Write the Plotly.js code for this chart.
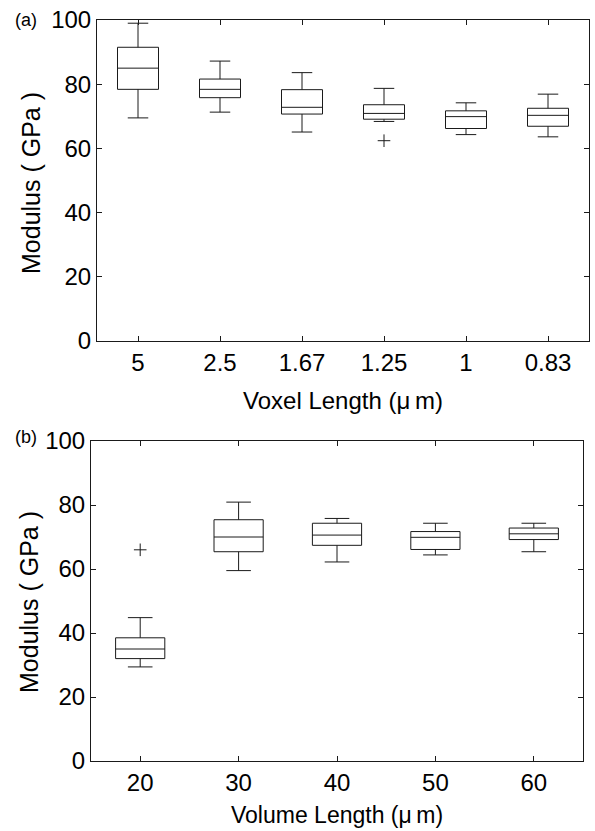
<!DOCTYPE html>
<html>
<head>
<meta charset="utf-8">
<script src="https://cdn.plot.ly/plotly-3.0.1.min.js"></script>
<style>html,body{margin:0;padding:0;background:#fff;}#chart{width:595px;height:831px;}</style>
</head>
<body>
<div id="chart"></div>
<script>
// Panel (a): modulus vs voxel length
const voxelCats = ["5", "2.5", "1.67", "1.25", "1", "0.83"];
const voxelLower = [69.5, 71.3, 65.1, 68.4, 64.3, 63.6];
const voxelQ1 = [78.4, 75.8, 70.7, 69.1, 66.2, 66.9];
const voxelMedian = [85.0, 78.4, 72.8, 70.9, 69.9, 70.3];
const voxelQ3 = [91.5, 81.6, 78.3, 73.6, 71.7, 72.5];
const voxelUpper = [99.0, 87.2, 83.6, 78.7, 74.2, 76.9];
const voxelOutX = ["1.25"];
const voxelOutY = [62.4];

// Panel (b): modulus vs volume length
const volumeCats = ["20", "30", "40", "50", "60"];
const volumeLower = [29.4, 59.5, 62.2, 64.4, 65.4];
const volumeQ1 = [32.0, 65.4, 67.4, 66.1, 69.2];
const volumeMedian = [35.0, 70.0, 70.6, 69.9, 71.0];
const volumeQ3 = [38.5, 75.4, 74.3, 71.7, 72.8];
const volumeUpper = [44.8, 80.9, 75.8, 74.3, 74.3];
const volumeOutX = ["20"];
const volumeOutY = [66.0];

const yTicks = [0, 20, 40, 60, 80, 100];

const FONT = "Liberation Sans, Arial, Helvetica, sans-serif";
const INK = "#1a1a1a";

function boxTrace(cats, lo, q1, med, q3, up, xa, ya) {
  return {
    type: "box", x: cats, q1: q1, median: med, q3: q3,
    lowerfence: lo, upperfence: up,
    xaxis: xa, yaxis: ya,
    width: 0.5, whiskerwidth: 0.5,
    boxpoints: false,
    line: {color: INK, width: 1},
    fillcolor: "rgba(255,255,255,0)",
    hoverinfo: "skip", showlegend: false
  };
}
function outTrace(xs, ys, xa, ya) {
  return {
    type: "scatter", mode: "markers", x: xs, y: ys, xaxis: xa, yaxis: ya,
    marker: {symbol: "cross-thin-open", size: 9, color: INK, line: {color: INK, width: 1}},
    showlegend: false, hoverinfo: "skip"
  };
}

const data = [
  boxTrace(voxelCats, voxelLower, voxelQ1, voxelMedian, voxelQ3, voxelUpper, "x", "y"),
  outTrace(voxelOutX, voxelOutY, "x", "y"),
  boxTrace(volumeCats, volumeLower, volumeQ1, volumeMedian, volumeQ3, volumeUpper, "x2", "y2"),
  outTrace(volumeOutX, volumeOutY, "x2", "y2")
];

const W = 595, H = 831;
function axisBase() {
  return {
    showline: true, linecolor: INK, linewidth: 1, mirror: "ticks",
    ticks: "inside", ticklen: 5, tickcolor: INK, tickwidth: 1,
    showgrid: false, zeroline: false,
    tickfont: {family: FONT, size: 24, color: "#000"}
  };
}
const layout = {
  width: W, height: H,
  margin: {l: 0, r: 0, t: 0, b: 0},
  paper_bgcolor: "#fff", plot_bgcolor: "#fff",
  showlegend: false,
  xaxis: Object.assign(axisBase(), {
    type: "category", categoryorder: "array", categoryarray: voxelCats,
    domain: [97 / W, 589 / W], anchor: "y", range: [-0.5, 5.5]
  }),
  yaxis: Object.assign(axisBase(), {
    domain: [1 - 341 / H, 1 - 20 / H], anchor: "x", range: [0, 100],
    tickvals: yTicks, ticktext: yTicks.map(String)
  }),
  xaxis2: Object.assign(axisBase(), {
    type: "category", categoryorder: "array", categoryarray: volumeCats,
    domain: [91 / W, 583 / W], anchor: "y2", range: [-0.5, 4.5]
  }),
  yaxis2: Object.assign(axisBase(), {
    domain: [1 - 761 / H, 1 - 441 / H], anchor: "x2", range: [0, 100],
    tickvals: yTicks, ticktext: yTicks.map(String)
  }),
  annotations: [
    {text: "(a)", xref: "paper", yref: "paper", x: 13 / W, y: 1 - 20 / H, xanchor: "left", yanchor: "middle",
     showarrow: false, font: {family: FONT, size: 18, color: "#000"}},
    {text: "(b)", xref: "paper", yref: "paper", x: 13 / W, y: 1 - 437 / H, xanchor: "left", yanchor: "middle",
     showarrow: false, font: {family: FONT, size: 18, color: "#000"}},
    {text: "Modulus ( GPa )", xref: "paper", yref: "paper", x: 31 / W, y: 1 - 183 / H, xanchor: "center", yanchor: "middle",
     textangle: -90, showarrow: false, font: {family: FONT, size: 25, color: "#000"}},
    {text: "Modulus ( GPa )", xref: "paper", yref: "paper", x: 29 / W, y: 1 - 602 / H, xanchor: "center", yanchor: "middle",
     textangle: -90, showarrow: false, font: {family: FONT, size: 25, color: "#000"}},
    {text: "Voxel Length (\u03bc\u2009m)", xref: "paper", yref: "paper", x: 343 / W, y: 1 - 400 / H, xanchor: "center", yanchor: "middle",
     showarrow: false, font: {family: FONT, size: 24, color: "#000"}},
    {text: "Volume Length (\u03bc\u2009m)", xref: "paper", yref: "paper", x: 337 / W, y: 1 / H, xanchor: "center", yanchor: "bottom",
     showarrow: false, font: {family: FONT, size: 23, color: "#000"}}
  ]
};

Plotly.newPlot("chart", data, layout, {staticPlot: true, displayModeBar: false});
</script>
</body>
</html>
